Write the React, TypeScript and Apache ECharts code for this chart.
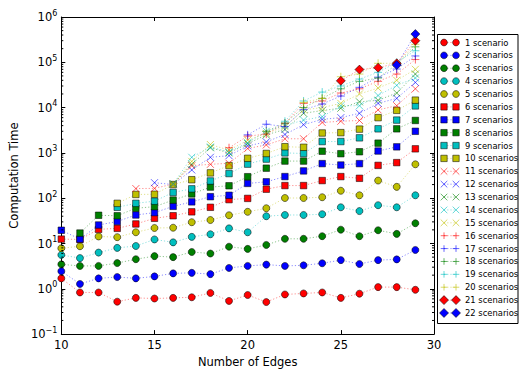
import React, { useEffect, useRef } from 'react';
import * as echarts from 'echarts';

const N = null;
const EDGES = [10, 11, 12, 13, 14, 15, 16, 17, 18, 19, 20, 21, 22, 23, 24, 25, 26, 27, 28, 29];

const SERIES_NAMES = [
  '1 scenario', '2 scenarios', '3 scenarios', '4 scenarios', '5 scenarios',
  '6 scenarios', '7 scenarios', '8 scenarios', '9 scenarios', '10 scenarios',
  '11 scenarios', '12 scenarios', '13 scenarios', '14 scenarios', '15 scenarios',
  '16 scenarios', '17 scenarios', '18 scenarios', '19 scenarios', '20 scenarios',
  '21 scenarios', '22 scenarios',
];

const S1 = [1.7, 0.83, 0.83, 0.52, 0.63, 0.61, 0.63, 0.65, 0.81, 0.54, 0.73, 0.51, 0.75, 0.79, 0.83, 0.63, 0.78, 1.09, 1.09, 0.95];
const S2 = [2.45, 1.28, 1.7, 1.82, 1.7, 1.88, 2.19, 2.25, 2.11, 2.89, 3.2, 3.42, 3.2, 3.3, 3.66, 4.3, 3.53, 4.3, 4.46, 7.2];
const S3 = [3.47, 3.2, 3.2, 3.7, 4.5, 5.27, 5.0, 6.5, 6.0, 8.5, 7.6, 9.3, 12.7, 12.7, 14.5, 20.2, 14.5, 19.6, 16.3, 28];
const S4 = [5.6, 4.76, 6.3, 8.0, 8.8, 12.3, 10.6, 14.0, 16.0, 21.6, 17.7, 40, 42.6, 42.6, 44.3, 63, 52, 70, 63, 116];
const S5 = [7.85, 8.7, 14.3, 13.8, 17.7, 22, 22.3, 29.5, 33, 42, 50, 60, 101, 101, 105, 146, 116, 245, 178, 560];
const S6 = [12.5, 12.3, 20.5, 21.6, 27, 36, 41, 50, 63, 93, 99, 158, 190, 190, 245, 300, 275, 530, 610, 1230];
const S7 = [19.6, 12.5, 25.6, 30.6, 42.6, 48, 66, 83, 108, 116, 212, 230, 300, 400, 580, 540, 580, 1100, 1360, 3000];
const S8 = [N, 17, 42, 41, 60, 65, 91, 124, 176, 188, 298, 460, 660, 660, 1090, 960, 1060, 1640, 3400, 5200];
const S9 = [N, N, N, 63, 77, 86, 134, 161, 240, 350, 565, 730, 1000, 970, 1780, 1780, 2150, 3400, 5300, 10900];
const S10 = [N, N, N, 77, 121, 122, 200, 256, 362, 525, 760, 970, 1370, 1330, 2750, 2800, 3350, 6000, 8700, 14600];
const S11 = [N, N, N, N, 163, 165, 205, 520, 560, 590, 1250, 1500, 2050, 2050, 4700, 5000, 5200, 8900, 11000, 26000];
const S12 = [N, N, N, N, N, 220, 200, 420, 800, 870, 1430, 1750, 2550, 4200, 5500, 6000, 7500, 12400, 16000, 36000];
const S13 = [N, N, N, N, N, N, 210, 560, 1300, 1000, 1600, 2500, 3300, 7500, 8600, 9700, 13400, 14500, 21000, 55000];
const S14 = [N, N, N, N, N, N, 205, 800, 1350, 1050, 1680, 3000, 4000, 5300, 6300, 11000, 11000, 18500, 31000, 45000];
const S15 = [N, N, N, N, N, N, 200, 650, 1530, 1150, 1900, 2700, 3800, 8900, 10000, 12400, 20000, 27000, 40000, 70000];
const S16 = [N, N, N, N, N, N, N, N, N, 1300, 2350, 2600, 4500, 12400, 14000, 21000, 26000, 38000, 55000, 115000];
const S17 = [N, N, N, N, N, N, N, N, N, N, 2500, 4300, 3800, 9000, 12000, 18000, 28000, 47000, 71000, 138000];
const S18 = [N, N, N, N, N, N, N, N, N, N, N, 3000, 4550, 10000, 16000, 26000, 38000, 45000, 90000, 220000];
const S19 = [N, N, N, N, N, N, N, N, N, N, N, N, 5000, 14000, 22000, 30000, 42700, 60000, 100000, 180000];
const S20 = [N, N, N, N, N, N, N, N, N, N, N, N, N, 13000, 16000, 48000, 55000, 95000, 95000, 250000];
const S21 = [N, N, N, N, N, N, N, N, N, N, N, N, N, N, N, 39000, 69000, 76000, 95000, 300000];
const S22 = [N, N, N, N, N, N, N, N, N, N, N, N, N, N, N, N, N, N, 87000, 420000];

const ALL_VALUES = [S1, S2, S3, S4, S5, S6, S7, S8, S9, S10, S11, S12, S13, S14, S15, S16, S17, S18, S19, S20, S21, S22];

const X_MIN = 10, X_MAX = 30, X_STEP = 5;
const Y_MIN = 0.1, Y_MAX = 1e6;

// styles
const COLORS = ['#ff0000', '#0000ff', '#008000', '#00bfbf', '#bfbf00'];
const KINDS = ['circle', 'circle', 'circle', 'circle', 'circle',
  'square', 'square', 'square', 'square', 'square',
  'cross', 'cross', 'cross', 'cross', 'cross',
  'plus', 'plus', 'plus', 'plus', 'plus',
  'diamond', 'diamond'];
const FONT = '"DejaVu Sans", sans-serif';
const EDGE = 'rgba(0,0,0,0.65)';
const OPEN_OPACITY = 0.6;

const CROSS_PATH = 'path://M0,0L10,10M10,0L0,10';
const PLUS_PATH = 'path://M5,0L5,10M0,5L10,5';

function symbolFor(kind: string) {
  switch (kind) {
    case 'circle': return { symbol: 'circle', symbolSize: 7 };
    case 'square': return { symbol: 'rect', symbolSize: 6.5 };
    case 'cross': return { symbol: CROSS_PATH, symbolSize: 7 };
    case 'plus': return { symbol: PLUS_PATH, symbolSize: 8 };
    default: return { symbol: 'diamond', symbolSize: 9 };
  }
}

function legendMarker(kind: string, cx: number, cy: number, color: string): any[] {
  if (kind === 'circle') {
    return [{ type: 'circle', shape: { cx, cy, r: 3.4 }, style: { fill: color, stroke: EDGE, lineWidth: 0.8 } }];
  }
  if (kind === 'square') {
    return [{ type: 'rect', shape: { x: cx - 3.2, y: cy - 3.2, width: 6.4, height: 6.4 }, style: { fill: color, stroke: EDGE, lineWidth: 0.8 } }];
  }
  if (kind === 'diamond') {
    return [{ type: 'polygon', shape: { points: [[cx, cy - 4.5], [cx + 4.5, cy], [cx, cy + 4.5], [cx - 4.5, cy]] }, style: { fill: color, stroke: EDGE, lineWidth: 0.8 } }];
  }
  const r = 3.3;
  const st = { stroke: color, lineWidth: 1, opacity: OPEN_OPACITY };
  if (kind === 'cross') {
    return [
      { type: 'line', shape: { x1: cx - r, y1: cy - r, x2: cx + r, y2: cy + r }, style: st },
      { type: 'line', shape: { x1: cx - r, y1: cy + r, x2: cx + r, y2: cy - r }, style: st },
    ];
  }
  return [
    { type: 'line', shape: { x1: cx - r, y1: cy, x2: cx + r, y2: cy }, style: st },
    { type: 'line', shape: { x1: cx, y1: cy - r, x2: cx, y2: cy + r }, style: st },
  ];
}

function buildOption() {
  const series: any[] = ALL_VALUES.map((vals, i) => {
    const color = COLORS[i % 5];
    const kind = KINDS[i];
    const open = kind === 'cross' || kind === 'plus';
    const data = EDGES.map((x, j) => [x, vals[j]]).filter((p) => p[1] != null);
    return {
      type: 'line',
      name: SERIES_NAMES[i],
      data,
      ...symbolFor(kind),
      showSymbol: true,
      showAllSymbol: true,
      z: 2,
      itemStyle: open
        ? { color: 'transparent', borderColor: color, borderWidth: 1, opacity: OPEN_OPACITY }
        : { color, borderColor: EDGE, borderWidth: 0.8 },
      lineStyle: { color, width: 1, type: [1.2, 2], opacity: 0.45 },
      emphasis: { disabled: true },
    };
  });

  const minor: number[][] = [];
  for (let e = -1; e < 6; e++) {
    for (let m = 2; m <= 9; m++) minor.push([X_MIN, m * Math.pow(10, e)]);
  }
  series.push({
    type: 'custom',
    coordinateSystem: 'cartesian2d',
    silent: true,
    data: minor,
    z: 5,
    renderItem: (params: any, api: any) => {
      const y = api.coord([api.value(0), api.value(1)])[1];
      const cs = params.coordSys;
      const st = { stroke: '#000', lineWidth: 1 };
      return {
        type: 'group',
        children: [
          { type: 'line', shape: { x1: cs.x, y1: y, x2: cs.x + 2, y2: y }, style: st },
          { type: 'line', shape: { x1: cs.x + cs.width, y1: y, x2: cs.x + cs.width - 2, y2: y }, style: st },
        ],
      };
    },
  });

  const legendChildren: any[] = [
    { type: 'rect', shape: { x: 437.5, y: 34.5, width: 80.5, height: 289 }, style: { fill: '#fff', stroke: '#000', lineWidth: 1 } },
  ];
  SERIES_NAMES.forEach((name, i) => {
    const cy = 42.5 + i * 12.88;
    const color = COLORS[i % 5];
    const kind = KINDS[i];
    legendChildren.push({ type: 'line', shape: { x1: 444, y1: cy, x2: 456, y2: cy }, style: { stroke: color, lineWidth: 1, lineDash: [1.2, 2], opacity: 0.45 } });
    legendChildren.push(...legendMarker(kind, 444, cy, color));
    legendChildren.push(...legendMarker(kind, 456, cy, color));
    legendChildren.push({
      type: 'text',
      style: { text: name, x: 465, y: cy, fill: '#000', font: '8.4px ' + FONT, textAlign: 'left', textVerticalAlign: 'middle', verticalAlign: 'middle' },
    });
  });

  const axisLineStyle = { color: '#000', width: 1 };
  const tickStyle = { color: '#000', width: 1 };

  const yFormatter = (v: number) => {
    const e = Math.round(Math.log10(v));
    const exp = e < 0 ? '\u2212' + (-e) : String(e);
    return '{b|10}{s|' + exp + '}';
  };

  return {
    animation: false,
    backgroundColor: '#fff',
    grid: { left: 58, top: 17, width: 376, height: 323.5, containLabel: false },
    xAxis: [
      {
        type: 'value', min: X_MIN, max: X_MAX, interval: X_STEP, position: 'bottom',
        axisLine: { show: true, onZero: false, lineStyle: axisLineStyle },
        axisTick: { show: true, inside: true, length: 4, lineStyle: tickStyle },
        axisLabel: { color: '#000', fontSize: 11.5, fontFamily: FONT, margin: 5 },
        splitLine: { show: false },
        name: 'Number of Edges', nameLocation: 'middle', nameGap: 18,
        nameTextStyle: { color: '#000', fontSize: 11.5, fontFamily: FONT },
      },
      {
        type: 'value', min: X_MIN, max: X_MAX, interval: X_STEP, position: 'top',
        axisLine: { show: true, onZero: false, lineStyle: axisLineStyle },
        axisTick: { show: true, inside: true, length: 4, lineStyle: tickStyle },
        axisLabel: { show: false },
        splitLine: { show: false },
      },
    ],
    yAxis: [
      {
        type: 'log', logBase: 10, min: Y_MIN, max: Y_MAX, splitNumber: 7, position: 'left',
        axisLine: { show: true, onZero: false, lineStyle: axisLineStyle },
        axisTick: { show: true, inside: true, length: 4, lineStyle: tickStyle },
        axisLabel: {
          color: '#000', margin: 4, formatter: yFormatter,
          rich: {
            b: { fontSize: 11.5, fontFamily: FONT, color: '#000' },
            s: { fontSize: 8, fontFamily: FONT, color: '#000', padding: [0, 0, 8, 0] },
          },
        },
        splitLine: { show: false },
        name: 'Computation Time', nameLocation: 'middle', nameGap: 34,
        nameTextStyle: { color: '#000', fontSize: 11.5, fontFamily: FONT },
      },
      {
        type: 'log', logBase: 10, min: Y_MIN, max: Y_MAX, splitNumber: 7, position: 'right',
        axisLine: { show: true, onZero: false, lineStyle: axisLineStyle },
        axisTick: { show: true, inside: true, length: 4, lineStyle: tickStyle },
        axisLabel: { show: false },
        splitLine: { show: false },
      },
    ],
    series,
    graphic: [{ type: 'group', z: 100, children: legendChildren }],
  };
}

export default function App() {
  const ref = useRef<HTMLDivElement>(null);
  useEffect(() => {
    const chart = echarts.init(ref.current!, null, { renderer: 'svg' });
    chart.setOption(buildOption() as any);
    return () => chart.dispose();
  }, []);
  return (
    <div
      ref={ref}
      style={{ position: 'fixed', left: 0, top: 0, width: 519, height: 373, background: '#fff' }}
    />
  );
}
